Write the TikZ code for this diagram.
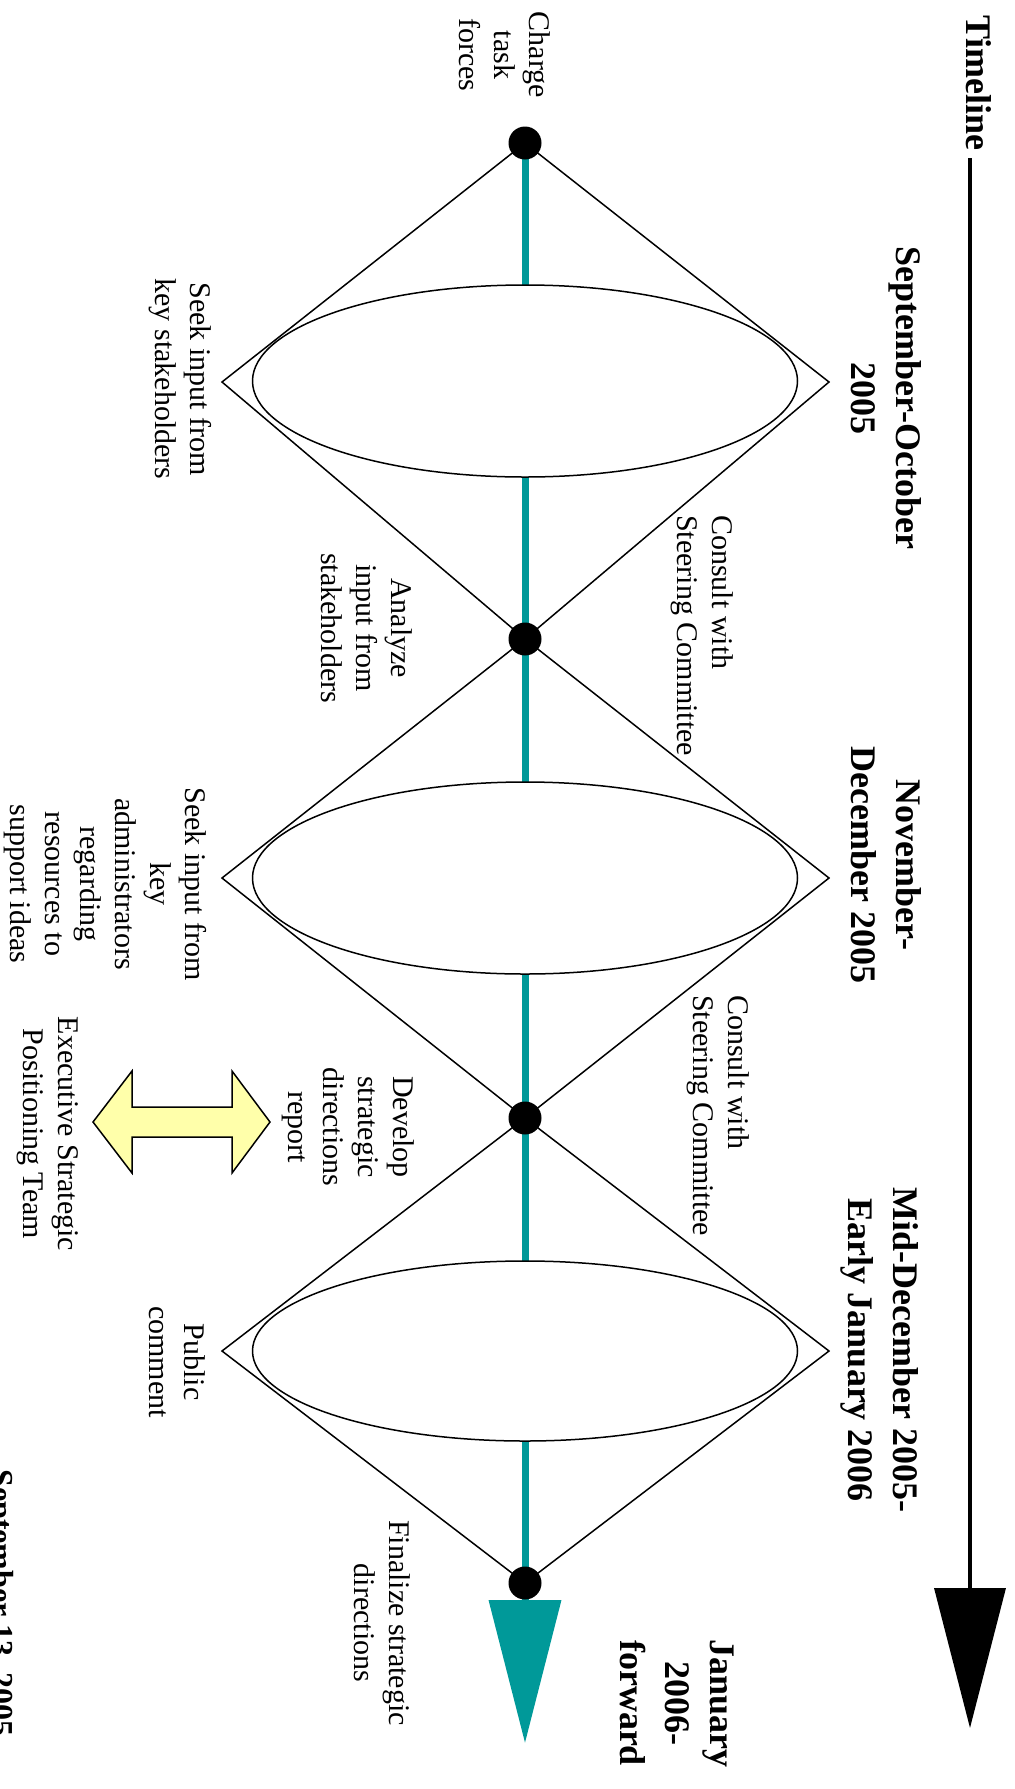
\documentclass[tikz,border=0pt]{standalone}
\usepackage{fontspec}
\setmainfont{Liberation Serif}
\usetikzlibrary{positioning,arrows.meta,shapes.geometric,backgrounds}
\definecolor{trackteal}{RGB}{0,153,153}
\definecolor{linkyellow}{RGB}{255,255,170}

\begin{document}
\begin{tikzpicture}[x=1pt ,y=-1pt ,line join=miter ,
lbl/.style ={ rotate=-90 ,align=center ,inner sep=0pt ,
font=\fontsize{30}{35}\selectfont},
head/.style ={ lbl ,font=\fontsize{36}{45}\selectfont\bfseries},
dot/.style ={ circle ,fill=black ,minimum size=33pt ,inner sep=0pt},
phase/.style ={ draw ,line width=1.5pt},
loop/.style ={ ellipse ,draw ,fill=white ,line width=1.5pt ,
minimum width=545pt ,inner sep=0pt}]
\useasboundingbox (0,0) rectangle (1015,1789);

\coordinate (m1) at (525,143);
\coordinate (m2) at (525,639);
\coordinate (m3) at (525,1118);
\coordinate (m4) at (525,1583);
\coordinate (l1) at (222,382);
\coordinate (r1) at (829,382);
\coordinate (l2) at (222,878);
\coordinate (r2) at (829,878);
\coordinate (l3) at (222,1351);
\coordinate (r3) at (829,1351);
\coordinate (tealtip) at (525,1743);
\coordinate (tlstart) at (970,158);
\coordinate (tlend) at (970,1728);

\begin{pgfonlayer}{background}
\draw[trackteal ,line width=7pt ,-{Triangle[width=71pt,length=143pt]}] (m1) -- (tealtip);
\end{pgfonlayer}

\draw[phase] (m1) -- (r1) -- (m2) -- (l1) -- cycle;
\draw[phase] (m2) -- (r2) -- (m3) -- (l2) -- cycle;
\draw[phase] (m3) -- (r3) -- (m4) -- (l3) -- cycle;

\node[loop ,minimum height=192pt] (e1) at (525,381) {};
\node[loop ,minimum height=192pt] (e2) at (525,878) {};
\node[loop ,minimum height=180pt] (e3) at (525,1351) {};

\node[dot] (d1) at (m1) {};
\node[dot] (d2) at (m2) {};
\node[dot] (d3) at (m3) {};
\node[dot] (d4) at (m4) {};

\node[head] (timeline) at (979,83) {Timeline};
\draw[line width=3.5pt ,-{Triangle[width=71pt,length=140pt]}] (tlstart) -- (tlend);

\node[head] (sepoct) at (886,398) {September-October\\2005};
\node[head] (novdec) at (886,865) {November-\\December 2005};
\node[head] (middec) at (880,1350) {Mid-December 2005-\\Early January 2006};
\node[head] (janfwd) at (677,1703) {January\\2006-\\forward};
\node[head ,font=\fontsize{32}{40}\selectfont\bfseries ,anchor=base] (sepdate) at (-9,1603) {September 13, 2005};

\node[lbl] (charge) at (505,55) {Charge\\task\\forces};
\node[lbl] (seekkey) at (180,379) {Seek input from\\key stakeholders};
\node[lbl ,align=left ,anchor=west] (consultA) at (702,515) {Consult with\\Steering Committee};
\node[lbl] (analyze) at (367,628) {Analyze\\input from\\stakeholders};
\node[lbl] (seekadmin) at (105,884) {Seek input from\\key\\administrators\\regarding\\resources to\\support ideas};
\node[lbl ,align=left ,anchor=west] (consultB) at (718,995) {Consult with\\Steering Committee};
\node[lbl] (develop) at (348,1127) {Develop\\strategic\\directions\\report};
\node[lbl] (espteam) at (48,1134) {Executive Strategic\\Positioning Team};
\node[lbl] (public) at (177,1362) {Public\\comment};
\node[lbl] (finalize) at (382,1623) {Finalize strategic\\directions};

\draw[line width=1.5pt ,fill=linkyellow] (93,1122) -- (132,1071) -- (132,1107) -- (232,1107)
-- (232,1071) -- (270,1122) -- (232,1173) -- (232,1137) -- (132,1137) -- (132,1173) -- cycle;
\end{tikzpicture}
\end{document}
